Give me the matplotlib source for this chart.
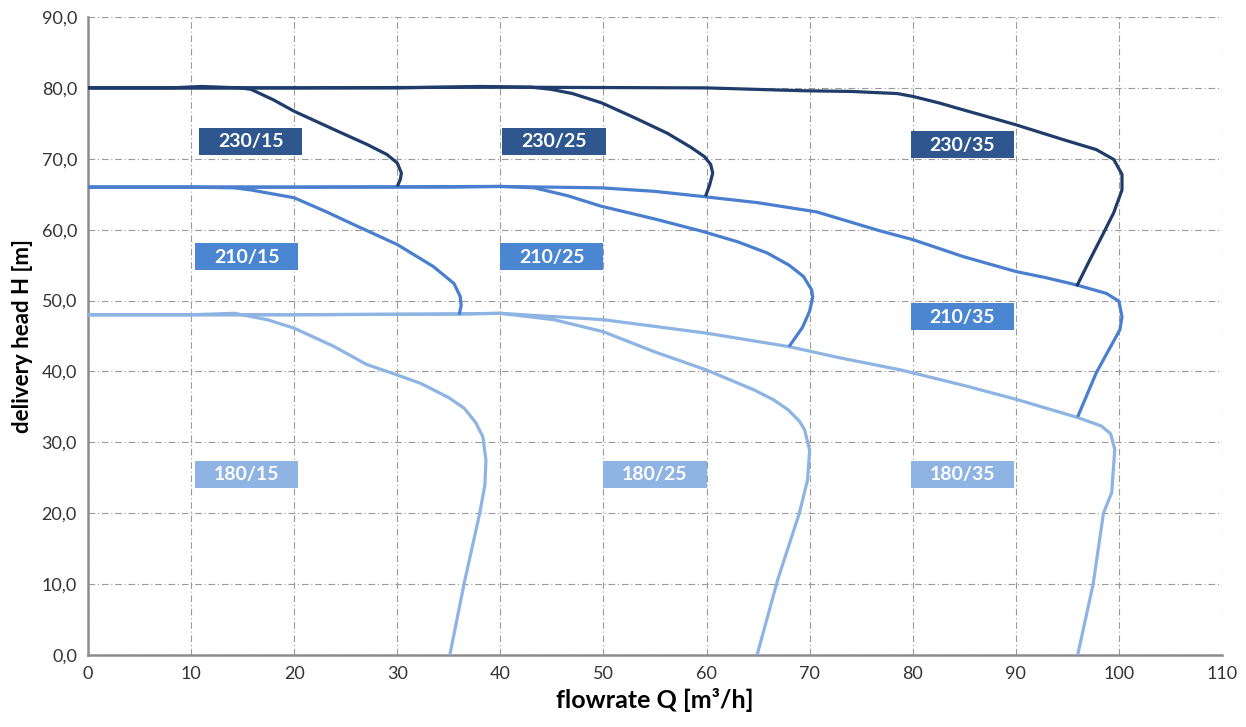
import numpy as np
import matplotlib
matplotlib.use('Agg')
import matplotlib.pyplot as plt
from matplotlib.patches import Rectangle
from matplotlib.ticker import FuncFormatter

plt.rcParams['font.family'] = ['Lato', 'DejaVu Sans']

# pump curves: flowrate Q [m3/h] vs delivery head H [m]
q_230_15 = [0, 8, 11, 14.8, 15.8, 18, 20, 23.9, 27.1, 29.0, 30.0, 30.4, 30.3, 30.0]
h_230_15 = [80, 80, 80.2, 80, 79.8, 78.3, 76.7, 74.1, 72.0, 70.6, 69.4, 68.0, 67.1, 66.1]

q_230_25 = [0, 10, 20, 30, 38, 43, 44.9, 47, 49.8, 53, 56.2, 58.5, 59.8, 60.4, 60.6, 60.3, 59.9]
h_230_25 = [80, 80, 80, 80, 80.2, 80.1, 79.8, 79.2, 77.9, 75.8, 73.6, 71.6, 70.3, 69.2, 68, 66.3, 64.7]

q_230_35 = [0, 20, 40, 60, 69.3, 74, 78.5, 80, 82.5, 84.9, 90, 94.6, 97.8, 99.5, 100.3, 100.3, 99.5, 98.5, 97.2, 95.9]
h_230_35 = [80, 80, 80.1, 80, 79.6, 79.5, 79.2, 78.8, 77.9, 76.9, 74.8, 72.7, 71.3, 69.9, 67.8, 65.6, 62.4, 59.5, 55.8, 52.0]

q_210_15 = [0, 10, 14.2, 15.8, 20, 23, 26.1, 30, 33.5, 35.5, 36.1, 36.2, 36.0]
h_210_15 = [66, 66, 65.9, 65.6, 64.5, 62.6, 60.5, 57.9, 54.8, 52.4, 50.6, 49.3, 48.0]

q_210_25 = [0, 20, 35, 40, 43.3, 46.5, 49.8, 55, 59.5, 63, 65.9, 68, 69.4, 70.2, 70.3, 70.0, 69.3, 68]
h_210_25 = [66, 66, 66, 66.1, 65.9, 64.8, 63.3, 61.5, 59.8, 58.3, 56.7, 55.0, 53.4, 51.5, 50.5, 48.5, 46.2, 43.5]

q_210_35 = [0, 20, 40, 49.8, 55, 59.5, 65, 70.7, 76.9, 80, 84.9, 90, 93, 95.9, 98.8, 100, 100.3, 100.1, 97.8, 96]
h_210_35 = [66, 66, 66.1, 65.9, 65.4, 64.7, 63.8, 62.5, 59.8, 58.6, 56.2, 54.1, 53.2, 52.2, 51, 49.9, 47.7, 45.9, 39.8, 33.6]

q_180_15 = [0, 10, 14.2, 17.4, 20, 23.9, 27, 30, 32.3, 35, 36.5, 37.6, 38.3, 38.6, 38.5, 38, 36.5, 35.1]
h_180_15 = [48, 48, 48.2, 47.3, 46.1, 43.5, 41.0, 39.5, 38.3, 36.3, 34.8, 32.8, 30.8, 27.5, 24.0, 20, 10.2, 0]

q_180_25 = [0, 20, 36, 40, 45.2, 50, 54.9, 60, 64.6, 66.5, 67.9, 69.0, 69.5, 70, 69.8, 69, 66.9, 64.9]
h_180_25 = [48, 48, 48.1, 48.2, 47.3, 45.6, 42.8, 40.2, 37.4, 36.0, 34.6, 33.0, 31.8, 28.9, 24.7, 20, 10.6, 0]

q_180_35 = [0, 20, 35, 40, 50, 60, 68, 73, 78.9, 85.3, 90.2, 96, 98.3, 99.2, 99.6, 99.3, 98.5, 97.5, 96]
h_180_35 = [48, 48, 48.1, 48.2, 47.3, 45.4, 43.5, 41.9, 40.2, 37.9, 36, 33.5, 32.3, 31.2, 29, 22.9, 20, 10, 0]

labels = ['230/15', '230/25', '230/35',
          '210/15', '210/25', '210/35',
          '180/15', '180/25', '180/35']
label_q = [15.8, 45.2, 84.8, 15.4, 45.0, 84.8, 15.4, 55.0, 84.8]
label_h = [72.5, 72.5, 72.0, 56.2, 56.2, 47.7, 25.5, 25.5, 25.5]

C230 = '#1f3c6b'
C210 = '#4a7fcf'
C180 = '#8db4e2'
BOX = {'230': '#2e5790', '210': '#4a86d2', '180': '#8fb4e3'}

fig = plt.figure(figsize=(12.46, 7.27), dpi=100)
ax = fig.add_axes([88 / 1246, 1 - 655 / 727, (1222 - 88) / 1246, (655 - 17) / 727])

lw = 2.3
for q, h in [(q_180_15, h_180_15), (q_180_25, h_180_25), (q_180_35, h_180_35)]:
    ax.plot(q, h, color=C180, lw=lw, solid_capstyle='butt', solid_joinstyle='round', zorder=3)
for q, h in [(q_210_15, h_210_15), (q_210_25, h_210_25), (q_210_35, h_210_35)]:
    ax.plot(q, h, color=C210, lw=lw, solid_capstyle='butt', solid_joinstyle='round', zorder=4)
for q, h in [(q_230_15, h_230_15), (q_230_25, h_230_25), (q_230_35, h_230_35)]:
    ax.plot(q, h, color=C230, lw=lw, solid_capstyle='butt', solid_joinstyle='round', zorder=5)

# label boxes
bw, bh = 10.0, 3.8
for lab, x, y in zip(labels, label_q, label_h):
    ax.add_patch(Rectangle((x - bw / 2, y - bh / 2), bw, bh,
                           facecolor=BOX[lab[:3]], edgecolor='none', zorder=6))
    ax.text(x, y - 0.1, lab, color='white', fontsize=14, fontweight='bold',
            ha='center', va='center', zorder=7)

ax.set_xlim(0, 110)
ax.set_ylim(0, 90)
ax.set_xticks(np.arange(0, 111, 10))
ax.set_yticks(np.arange(0, 91, 10))
ax.yaxis.set_major_formatter(FuncFormatter(lambda v, p: f'{v:.1f}'.replace('.', ',')))
ax.grid(True, color='#9a9a9a', linestyle='-.', linewidth=0.8, dashes=(6, 2.5, 1, 2.5))
ax.set_axisbelow(True)
for s in ['top', 'right']:
    ax.spines[s].set_visible(False)
for s in ['left', 'bottom']:
    ax.spines[s].set_color('#8c8c8c')
    ax.spines[s].set_linewidth(1.8)
ax.tick_params(axis='both', length=0, labelsize=13, colors='#333333', pad=8)

ax.set_xlabel('flowrate Q [m³/h]', fontsize=18, fontweight='bold', labelpad=4)
ax.set_ylabel('delivery head H [m]', fontsize=16, fontweight='bold', labelpad=6)

fig.savefig('out.png', dpi=100)
